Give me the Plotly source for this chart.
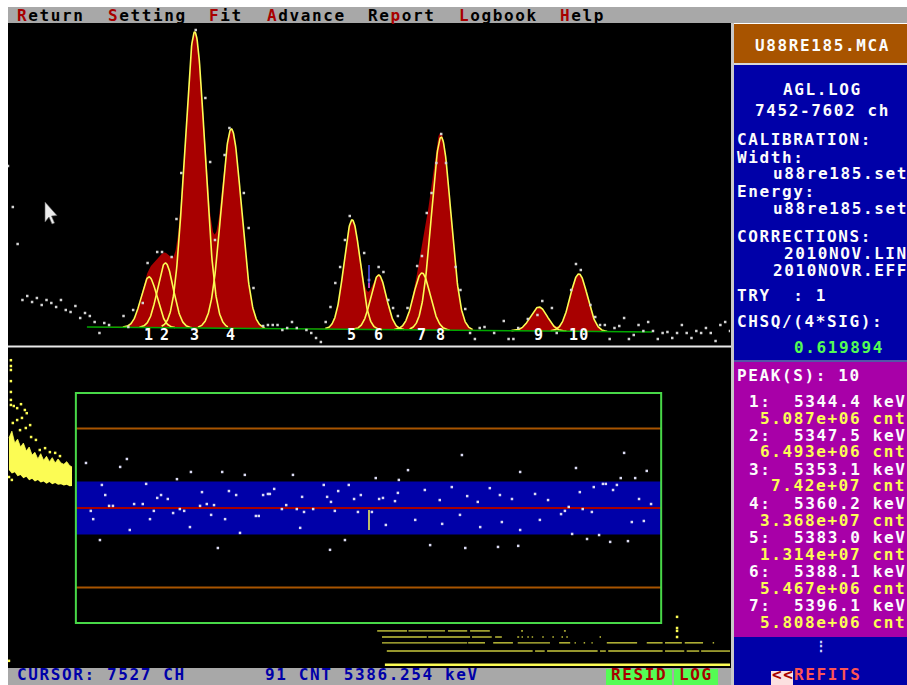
import numpy as np
import plotly.graph_objects as go

# Page pixel coordinates are used for the screen layout; the body margin is
# removed so that the figure's top-left corner is page pixel (0, 0).
OX, OY = 0, 0
W, H = 907, 685
FONT = "DejaVu Sans Mono"
CELL = 11.25
FS = 16
LS = round(CELL - 0.6021 * FS, 2)

# DOS palette
BLUE = "#0000a8"; GREEN = "#00a800"; RED = "#a80000"; MAGENTA = "#a800a8"
BROWN = "#a85400"; GRAY = "#a8a8a8"; LGREEN = "#54fc54"; LRED = "#fc5454"
LBLUE = "#5454fc"; LMAGENTA = "#fc54fc"; YELLOW = "#fcfc54"; WHITE = "#fcfcfc"

# ------------------------------------------------------------------ data
file_name = "U88RE185.MCA"
log_name = "AGL.LOG"
channel_range = [7452, 7602]
cursor_channel = 7527
cursor_counts = 91
cursor_energy_keV = 5386.254
width_file = "u88re185.set"
energy_file = "u88re185.set"
lin_file = "2010NOV.LIN"
eff_file = "2010NOVR.EFF"
try_number = 1
chisq = 0.619894

menu_items = ["Return", "Setting", "Fit", "Advance", "Report", "Logbook", "Help"]
menu_hotkey = [0, 0, 0, 0, 2, 0, 0]

peak_labels = ["1", "2", "3", "4", "5", "6", "7", "8", "9", "10"]
peak_channel = [7481.3, 7484.7, 7490.8, 7498.4, 7523.5, 7529.0, 7538.0, 7542.0, 7562.3, 7570.6]
peak_height = [50600, 64700, 296000, 199300, 109400, 54600, 57000, 193000, 24000, 57400]
peak_sigma = [1.65, 1.65, 2.1, 2.1, 1.7, 1.6, 1.75, 2.0, 1.75, 1.8]
peak_energy_keV = [5344.4, 5347.5, 5353.1, 5360.2, 5383.0, 5388.1, 5396.1]
peak_area = ["5.087e+06", "6.493e+06", "7.42e+07", "3.368e+07", "1.314e+07", "5.467e+06", "5.808e+06"]

background_channel = [7468.4, 7585.8]
background_counts = [18000, 13000]

data_channel = [7452, 7453, 7454, 7455, 7456, 7457, 7458, 7459, 7460, 7461, 7462, 7463, 7464, 7465,
                7466, 7467, 7468, 7469, 7470, 7471, 7472, 7473, 7476, 7477, 7478, 7480, 7481, 7483,
                7484, 7486, 7487, 7488, 7491, 7493, 7494, 7495, 7497, 7498, 7501, 7502, 7503, 7505,
                7506, 7507, 7508, 7509, 7510, 7511, 7512, 7514, 7515, 7516, 7517, 7518, 7519, 7520,
                7521, 7522, 7523, 7526, 7527, 7529, 7530, 7531, 7532, 7533, 7535, 7537, 7538, 7539,
                7540, 7541, 7542, 7543, 7545, 7546, 7547, 7548, 7549, 7550, 7551, 7553, 7555, 7556,
                7557, 7558, 7560, 7562, 7563, 7565, 7566, 7569, 7570, 7571, 7573, 7574, 7575, 7576,
                7577, 7578, 7579, 7580, 7581, 7582, 7583, 7584, 7585, 7586, 7587, 7588, 7589, 7590,
                7591, 7592, 7593, 7594, 7595, 7596, 7597, 7598, 7599, 7600, 7601, 7602]
data_counts = [179000, 138000, 101000, 45000, 49000, 43000, 47000, 40000, 45000, 42000, 38000, 45000, 35000, 33000,
               39000, 27000, 32000, 29000, 23000, 12000, 22000, 20000, 29000, 18000, 35000, 42000, 82000, 93000,
               93000, 88000, 126000, 172000, 315000, 247000, 183000, 105000, 190000, 217000, 152000, 117000, 57000, 19000,
               20000, 20000, 20000, 15000, 17000, 23000, 17000, 15000, 12000, 7000, 3000, 23000, 38000, 62000,
               78000, 105000, 129000, 92000, 65000, 78000, 73000, 45000, 37000, 29000, 37000, 79000, 89000, 132000,
               152000, 182000, 211000, 182000, 78000, 55000, 36000, 12000, 6000, 17000, 18000, 12000, 24000, 6000,
               6000, 17000, 26000, 30000, 44000, 37000, 12000, 55000, 81000, 75000, 40000, 28000, 20000, 20000,
               6000, 17000, 19000, 27000, 6000, 10000, 20000, 14000, 23000, 14000, 6000, 12000, 13000, 7000,
               12000, 20000, 12000, 7000, 14000, 12000, 17000, 12000, 4000, 20000, 23000, 14000]

fit_region_channel = [7466.1, 7587.7]
residual_box_sigma = 4.34
residual_band_sigma = 1.0
residual_limit_sigma = 3.0

residual_channel = [7468.2, 7476.7, 7475.3, 7487.1, 7490.0, 7496.5, 7501.2, 7511.2, 7528.4, 7533.2,
                    7471.5, 7480.7, 7472.2, 7483.0, 7483.8, 7485.2, 7492.3, 7497.9, 7499.4, 7505.0,
                    7506.0, 7506.4, 7507.3, 7513.1, 7517.6, 7518.3, 7520.6, 7522.8, 7523.9, 7525.3,
                    7529.1, 7529.9, 7532.4, 7473.0, 7473.8, 7478.2, 7480.0, 7491.9, 7493.3, 7494.8,
                    7509.8, 7512.0, 7515.4, 7519.1, 7469.2, 7482.3, 7486.3, 7487.7, 7488.6, 7494.2,
                    7497.1, 7503.5, 7504.1, 7508.9, 7513.5, 7519.9, 7524.7, 7527.6, 7469.7, 7481.5,
                    7477.3, 7489.8, 7500.2, 7512.7, 7522.0, 7495.6, 7518.9, 7471.1,
                    7535.1, 7546.3, 7558.4, 7533.0, 7538.6, 7541.7, 7544.2, 7547.4, 7549.6, 7552.1,
                    7554.2, 7556.7, 7561.5, 7564.2, 7536.6, 7542.2, 7545.9, 7550.1, 7554.6, 7558.4,
                    7562.5, 7539.7, 7547.0, 7553.8, 7558.0, 7530.5,
                    7580.0, 7570.0, 7584.7, 7579.3, 7582.3, 7573.7, 7575.6, 7576.2, 7578.5, 7570.8,
                    7577.7, 7583.1, 7585.6, 7568.5, 7571.4, 7567.7, 7566.9, 7573.3, 7581.6, 7584.1,
                    7569.2, 7574.8, 7572.3, 7577.1, 7580.8]
residual_sigma = [1.70, 1.85, 1.55, 1.09, 1.36, 1.36, 1.25, 1.25, 1.13, 1.06,
                  0.87, 0.91, 0.49, 0.38, 0.49, 0.34, 0.60, 0.64, 0.49, 0.49,
                  0.53, 0.53, 0.72, 0.42, 0.87, 0.42, 0.64, 0.87, 0.34, 0.49,
                  0.34, 0.38, 0.26, 0.08, 0.08, 0.15, 0.15, 0.08, 0.15, 0.11,
                  0.11, -0.04, -0.04, 0.23, -0.11, -0.11, -0.19, -0.04, -0.11, -0.26,
                  -0.42, -0.30, -0.30, -0.04, -0.15, -0.11, -0.15, -0.15, -0.42, -0.42,
                  -0.83, -0.72, -0.94, -0.75, -1.21, -1.51, -1.58, -1.21,
                  1.43, 2.00, 1.36, 0.57, 0.68, 0.30, 0.79, 0.45, 0.23, 0.75,
                  0.49, 0.34, 0.53, 0.30, -0.45, -0.60, -0.26, -0.72, -0.53, -0.83,
                  -0.45, -1.40, -1.51, -1.47, -1.43, -0.64,
                  2.08, 1.51, 1.40, 1.13, 1.13, 0.79, 0.91, 0.91, 0.87, 0.60,
                  0.68, 0.34, 0.15, 0.04, -0.04, -0.11, -0.23, -0.15, -0.53, -0.49,
                  -0.98, -1.02, -1.17, -1.28, -1.25]

# residuals outside the fit region (yellow)
clump_channel = [7452.2, 7452.8, 7453.4, 7454.0, 7454.6, 7455.2, 7455.8, 7456.4, 7457.0, 7457.6, 7458.2, 7458.8,
                 7459.4, 7460.0, 7460.6, 7461.2, 7461.8, 7462.4, 7463.0, 7463.6, 7464.2, 7464.8, 7465.3]
clump_upper_sigma = [2.64, 2.90, 2.45, 2.60, 2.30, 2.45, 2.15, 2.30, 2.00, 2.10, 1.85, 2.05,
                     1.80, 1.95, 1.75, 1.90, 1.70, 1.85, 1.70, 1.65, 1.75, 1.60, 1.55]
clump_lower_sigma = [1.43, 1.30, 1.35, 1.20, 1.25, 1.12, 1.18, 1.05, 1.10, 1.00, 1.06, 0.96,
                     1.00, 0.92, 0.98, 0.90, 0.94, 0.88, 0.90, 0.85, 0.88, 0.82, 0.83]
outside_channel = [7452.6, 7452.6, 7452.6, 7452.6, 7452.6, 7452.6, 7452.6, 7453.2, 7453.9, 7454.7,
                   7455.5, 7455.9, 7454.9, 7453.9, 7453.0, 7456.6, 7454.5, 7455.7, 7456.8, 7457.8,
                   7458.6, 7459.7, 7460.7, 7461.8, 7462.8, 7452.2, 7452.8,
                   7591.0, 7591.0, 7591.0, 7591.0, 7452.2]
outside_sigma = [5.58, 5.36, 5.21, 4.79, 4.38, 4.08, 3.89, 3.85, 3.77, 3.92,
                 3.70, 3.58, 3.40, 3.32, 3.21, 3.13, 2.94, 3.02, 2.68, 2.57,
                 2.19, 2.26, 2.11, 2.08, 1.96, 1.17, 1.06,
                 -4.11, -4.53, -4.64, -4.87, -5.77]
row_sigma = [-4.64, -4.87, -5.09, -5.40, -5.92]
row_segments = [
    [[7528.7, 7534.9], [7535.2, 7542.8], [7543.4, 7547.4], [7548.0, 7552.1], [7558.6, 7559.0], [7567.5, 7567.9]],
    [[7529.7, 7539.0], [7539.3, 7548.0], [7548.4, 7552.5], [7553.2, 7554.6], [7557.8, 7558.2], [7558.7, 7559.0],
     [7559.9, 7560.2], [7560.8, 7561.1], [7563.0, 7563.3], [7565.1, 7565.4], [7567.0, 7567.3], [7568.0, 7568.3],
     [7574.9, 7575.2]],
    [[7529.7, 7547.4], [7547.6, 7551.1], [7552.8, 7556.9], [7557.9, 7564.6], [7566.5, 7568.8], [7569.7, 7570.0],
     [7571.6, 7571.9], [7573.2, 7573.5], [7576.4, 7582.7], [7584.7, 7588.0], [7588.5, 7592.0], [7592.6, 7596.4],
     [7598.4, 7598.7]],
    [[7530.7, 7561.0], [7561.5, 7563.5], [7564.0, 7574.5], [7575.0, 7576.2], [7576.7, 7588.0], [7588.5, 7592.5],
     [7593.0, 7595.6], [7596.0, 7602.0]],
    [[7530.3, 7602.0]],
]

# cursor marker extents
cursor_upper_counts = [80000, 62000, 57000]
cursor_resid_sigma = [-0.08, -0.83]

# ------------------------------------------------------------------ figure
fig = go.Figure()

grid = np.linspace(background_channel[0], background_channel[1], 1400)
bg = np.interp(grid, background_channel, background_counts)
comps = [h * np.exp(-0.5 * ((grid - c) / s) ** 2) for c, h, s in zip(peak_channel, peak_height, peak_sigma)]
total = bg + np.sum(comps, axis=0)

fig.add_trace(go.Scatter(x=grid, y=bg, mode="lines", line=dict(width=0, color=RED), hoverinfo="skip"))
fig.add_trace(go.Scatter(x=grid, y=total, mode="lines", line=dict(width=0, color=RED),
                         fill="tonexty", fillcolor=RED, hoverinfo="skip"))
cx, cy = [], []
for c, s, comp in zip(peak_channel, peak_sigma, comps):
    m = np.abs(grid - c) <= 3.3 * s
    cx += list(grid[m]) + [None]
    cy += list((bg + comp)[m]) + [None]
fig.add_trace(go.Scatter(x=cx, y=cy, mode="lines", line=dict(width=1.6, color=YELLOW), hoverinfo="skip"))
fig.add_trace(go.Scatter(x=grid, y=bg, mode="lines", line=dict(width=1.6, color=GREEN), hoverinfo="skip"))
fig.add_trace(go.Scatter(x=data_channel, y=data_counts, mode="markers",
                         marker=dict(symbol="square", size=2.5, color="#d4d4d4", line=dict(width=0))))
fig.add_trace(go.Scatter(x=[cursor_channel, cursor_channel], y=cursor_upper_counts[:2], mode="lines",
                         line=dict(width=1.5, color=LBLUE)))
fig.add_trace(go.Scatter(x=[cursor_channel, cursor_channel], y=cursor_upper_counts[1:], mode="lines",
                         line=dict(width=1.5, color=LMAGENTA)))

# residual panel
fig.add_trace(go.Scatter(x=clump_channel, y=clump_lower_sigma, mode="lines", line=dict(width=0, color=YELLOW),
                         xaxis="x2", yaxis="y2"))
fig.add_trace(go.Scatter(x=clump_channel, y=clump_upper_sigma, mode="lines", line=dict(width=0.8, color=YELLOW),
                         fill="tonexty", fillcolor=YELLOW, xaxis="x2", yaxis="y2"))
fig.add_trace(go.Scatter(x=outside_channel, y=outside_sigma, mode="markers",
                         marker=dict(symbol="square", size=2.5, color=YELLOW, line=dict(width=0)),
                         xaxis="x2", yaxis="y2"))
for k, (lvl, segs) in enumerate(zip(row_sigma, row_segments)):
    xs, ys = [], []
    for a, b in segs:
        xs += [a, b, None]
        ys += [lvl, lvl, None]
    bright = k == len(row_sigma) - 1
    fig.add_trace(go.Scatter(x=xs, y=ys, mode="lines",
                             line=dict(width=2.5 if bright else 1.4, color=YELLOW if bright else "#c8c83c"),
                             xaxis="x2", yaxis="y2"))
fig.add_trace(go.Scatter(x=residual_channel, y=residual_sigma, mode="markers",
                         marker=dict(symbol="square", size=2.5, color="#dcdcf4", line=dict(width=0)),
                         xaxis="x2", yaxis="y2"))
fig.add_trace(go.Scatter(x=[cursor_channel, cursor_channel], y=cursor_resid_sigma, mode="lines",
                         line=dict(width=1.5, color=YELLOW), xaxis="x2", yaxis="y2"))

# ------------------------------------------------------------------ layout helpers
shapes = []
annotations = []


def px(x):
    return (x - OX) / W


def py(y):
    return 1 - (y - OY) / H


def rect(x0, y0, x1, y1, color, layer="below"):
    shapes.append(dict(type="rect", xref="paper", yref="paper", x0=px(x0), x1=px(x1),
                       y0=py(y1), y1=py(y0), fillcolor=color, line=dict(width=0), layer=layer))


def sp(s, color=None, ls=LS):
    s = s.replace("&", "&amp;").replace("<", "&lt;").replace(">", "&gt;")
    st = f"letter-spacing:{ls}px"
    if color:
        st = f"color:{color};" + st
    return f'<span style="{st}">{s}</span>'


def text(t, x, y, color, anchor="left", size=FS, raw=False, xref="paper", yref="paper", ls=LS,
         vanchor="middle"):
    if xref == "paper":
        x = px(x)
    if yref == "paper":
        y = py(y)
    annotations.append(dict(text=t if raw else sp(t, ls=ls), x=x, y=y, xref=xref, yref=yref,
                            xanchor=anchor, yanchor=vanchor, showarrow=False, borderpad=0,
                            font=dict(family=FONT, size=size, color=color, weight="bold")))


# screen areas (page pixel coordinates)
rect(8, 23, 731, 668, "#000000")
rect(8, 7, 907, 23, GRAY)
rect(8, 668, 733, 685, GRAY)
rect(731, 23, 734, 685, "#c8c8c8")
rect(734, 24, 907, 63, BROWN)
rect(734, 63, 907, 65, "#d8d8d8")
rect(734, 65, 907, 360, BLUE)
rect(734, 360, 907, 362, "#5454a8")
rect(734, 362, 907, 637, MAGENTA)
rect(734, 637, 907, 685, BLUE)
rect(606, 669, 672, 685, LGREEN)
rect(674, 669, 718, 685, LGREEN)
rect(771, 671, 793, 685, "#fce0e0")
shapes.append(dict(type="line", xref="paper", yref="paper", x0=px(8), x1=px(731), y0=py(346.5), y1=py(346.5),
                   line=dict(color="#e8e8e8", width=2), layer="below"))

# residual panel guides (data coordinates)
f0, f1 = fit_region_channel
shapes.append(dict(type="rect", xref="x2", yref="y2", x0=f0, x1=f1, y0=-residual_band_sigma,
                   y1=residual_band_sigma, fillcolor=BLUE, line=dict(width=0), layer="below"))
for lvl, col in [(residual_limit_sigma, BROWN), (-residual_limit_sigma, BROWN), (0, RED)]:
    shapes.append(dict(type="line", xref="x2", yref="y2", x0=f0, x1=f1, y0=lvl, y1=lvl,
                       line=dict(color=col, width=2), layer="below"))
shapes.append(dict(type="rect", xref="x2", yref="y2", x0=f0, x1=f1, y0=-residual_box_sigma,
                   y1=residual_box_sigma, line=dict(color="#48d848", width=2), layer="below"))

# mouse pointer
pts = [(45, 202), (45, 222), (49, 217), (52, 224), (54.5, 223), (51.5, 216), (57, 215.5)]
path = "M " + " L ".join(f"{px(a):.5f},{py(b):.5f}" for a, b in pts) + " Z"
shapes.append(dict(type="path", xref="paper", yref="paper", path=path, fillcolor="#ececec",
                   line=dict(color="#606060", width=0.6), layer="above"))

# menu
menu_x = [17, 108, 209, 267, 368, 459, 560]
for item, hk, x in zip(menu_items, menu_hotkey, menu_x):
    t = ""
    if hk > 0:
        t += sp(item[:hk], "#000000")
    t += sp(item[hk], RED) + sp(item[hk + 1:], "#000000")
    text(t, x - 1, 15.5, "#000000", raw=True)

# peak labels
for lab, c in zip(peak_labels, peak_channel):
    text(lab, c, 10000, WHITE, anchor="center", size=15, xref="x", yref="y", ls=1.2)

# right information panel
text(file_name, 822, 45, WHITE, anchor="center")
text(log_name, 822, 89, WHITE, anchor="center")
text(f"{channel_range[0]}-{channel_range[1]} ch", 754, 110, WHITE)
text("CALIBRATION:", 736, 140, WHITE)
text("Width:", 736, 157, WHITE)
text(width_file, 772, 174, WHITE)
text("Energy:", 736, 191, WHITE)
text(energy_file, 772, 208, WHITE)
text("CORRECTIONS:", 736, 236, WHITE)
text(lin_file, 783, 253, WHITE)
text(eff_file, 772, 270, WHITE)
text(f"TRY  : {try_number}", 736, 295, WHITE)
text("CHSQ/(4*SIG):", 736, 321, WHITE)
text(f"{chisq:.6f}", 793, 347, LGREEN)

text(f"PEAK(S): {len(peak_labels)}", 736, 375, WHITE)
for i, (e, a) in enumerate(zip(peak_energy_keV, peak_area)):
    text(f"{i + 1}:  {e:.1f} keV", 748, 401 + 34 * i, WHITE)
    text(f"{a} cnt", 907, 418 + 34 * i, YELLOW, anchor="right")
text("\u22ee", 822, 646, "#d0d0fc", anchor="center", size=14)
text("<<", 771, 685, RED, vanchor="bottom")
text("REFITS", 793, 685, LRED, vanchor="bottom")

# status bar
text(f"CURSOR: {cursor_channel} CH", 16, 685, BLUE, vanchor="bottom")
text(f"{cursor_counts} CNT {cursor_energy_keV:.3f} keV", 264, 685, BLUE, vanchor="bottom")
text("RESID", 639, 685, RED, anchor="center", vanchor="bottom")
text("LOG", 696, 685, RED, anchor="center", vanchor="bottom")

xdom = [px(8), px(730)]
fig.update_layout(
    width=W, height=H, margin=dict(l=0, r=0, t=0, b=0),
    paper_bgcolor="#ffffff", plot_bgcolor="rgba(0,0,0,0)", showlegend=False,
    xaxis=dict(domain=xdom, range=channel_range, visible=False, anchor="y"),
    yaxis=dict(domain=[py(345), py(24)], range=[0, 321000], visible=False, anchor="x"),
    xaxis2=dict(domain=xdom, range=channel_range, visible=False, anchor="y2"),
    yaxis2=dict(domain=[py(668), py(348)], range=[-6.04, 6.04], visible=False, anchor="x2"),
    shapes=shapes, annotations=annotations, hovermode=False,
)

fig.write_html("out.html", config={"displayModeBar": False, "staticPlot": True},
               post_script="document.body.style.margin='0px';document.body.style.overflow='hidden';")
